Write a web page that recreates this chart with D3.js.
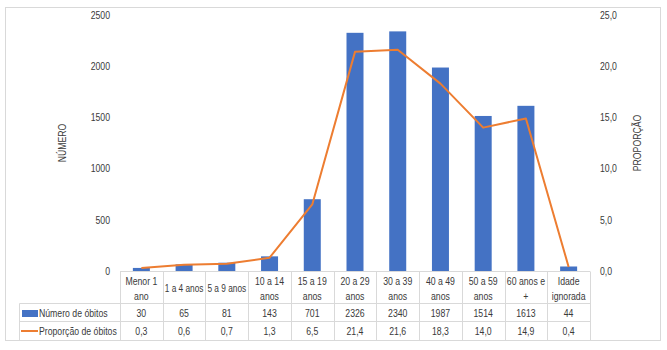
<!DOCTYPE html>
<html><head><meta charset="utf-8">
<script src="https://cdn.jsdelivr.net/npm/d3@7"></script>
<style>
body{margin:0;background:#fff;}
svg{display:block;font-family:"Liberation Sans",Arial,sans-serif;}
</style></head><body>
<svg id="c" width="667" height="350"></svg>
<script>
const categories = [["Menor 1","ano"],["1 a 4 anos"],["5 a 9 anos"],["10 a 14","anos"],["15 a 19","anos"],["20 a 29","anos"],["30 a 39","anos"],["40 a 49","anos"],["50 a 59","anos"],["60 anos e","+"],["Idade","ignorada"]];
const obitos = [30,65,81,143,701,2326,2340,1987,1514,1613,44];
const proporcao = [0.3,0.6,0.7,1.3,6.5,21.4,21.6,18.3,14.0,14.9,0.4];
const leftTicks = [0,500,1000,1500,2000,2500];
const rightTicks = [0,5,10,15,20,25];
const seriesNames = ["Número de óbitos","Proporção de óbitos"];

const svg = d3.select("#c");
const txt = "#3a3a3a", grid = "#d9d9d9";
const blue = "#4472C4", orange = "#ED7D31";
const x0 = 120, x1 = 590, yTop = 15, yBot = 271;

// outer frame
svg.append("rect").attr("x",5.5).attr("y",7.5).attr("width",655).attr("height",333)
  .attr("fill","none").attr("stroke",grid);

const idx = categories.map((d,i)=>i);
const x = d3.scaleBand().domain(idx).range([x0,x1]).paddingInner(0).paddingOuter(0);
const yL = d3.scaleLinear().domain([0,2500]).range([yBot,yTop]);
const yR = d3.scaleLinear().domain([0,25]).range([yBot,yTop]);

// left axis
const gl = svg.append("g").attr("transform",`translate(${x0-8},0)`)
  .call(d3.axisLeft(yL).tickValues(leftTicks).tickSize(0).tickPadding(2).tickFormat(d3.format("d")));
gl.select(".domain").remove();
gl.selectAll("text").attr("fill",txt).style("font-size","10.5px");

// right axis
const fmt = v => d3.format(".1f")(v).replace(".",",");
const gr = svg.append("g").attr("transform",`translate(${x1+8},0)`)
  .call(d3.axisRight(yR).tickValues(rightTicks).tickSize(0).tickPadding(2).tickFormat(fmt));
gr.select(".domain").remove();
gr.selectAll("text").attr("fill",txt).style("font-size","10.5px");

// axis titles
svg.append("text").attr("transform",`translate(66,143) rotate(-90)`).attr("text-anchor","middle")
  .attr("fill",txt).style("font-size","10.5px").text("NÚMERO");
svg.append("text").attr("transform",`translate(641,143) rotate(-90)`).attr("text-anchor","middle")
  .attr("fill",txt).style("font-size","10.5px").text("PROPORÇÃO");

// bars
const bw = 17;
svg.append("g").selectAll("rect").data(obitos).join("rect")
  .attr("x",(d,i)=>x(i)+x.bandwidth()/2-bw/2)
  .attr("y",d=>yL(d)).attr("width",bw).attr("height",d=>yBot-yL(d))
  .attr("fill",blue);

// line
const line = d3.line().x((d,i)=>x(i)+x.bandwidth()/2).y(d=>yR(d));
svg.append("path").datum(proporcao).attr("d",line).attr("fill","none")
  .attr("stroke",orange).attr("stroke-width",2).attr("stroke-linejoin","round");

// table
const tb = svg.append("g").attr("stroke",grid).attr("stroke-width",1);
const r0 = yBot+0.5, r1 = 303.5, r2 = 321.5, r3 = 340.5;
tb.append("line").attr("x1",x0).attr("x2",x1).attr("y1",r0).attr("y2",r0);
[r1,r2].forEach(y=>tb.append("line").attr("x1",19.5).attr("x2",x1).attr("y1",y).attr("y2",y));
tb.append("line").attr("x1",19.5).attr("x2",19.5).attr("y1",r1).attr("y2",r3);
idx.concat([idx.length]).forEach(i=>{
  const xx = Math.round(x0 + i*x.bandwidth())+0.5;
  tb.append("line").attr("x1",xx).attr("x2",xx).attr("y1",r0).attr("y2",r3);
});

const tt = svg.append("g").attr("fill",txt).style("font-size","10.5px").attr("text-anchor","middle");
categories.forEach((c,i)=>{
  const cx = x(i)+x.bandwidth()/2;
  if(c.length===1){
    tt.append("text").attr("class","cat").attr("x",cx).attr("y",288).attr("dy","0.35em").text(c[0]);
  } else {
    tt.append("text").attr("class","cat").attr("x",cx).attr("y",281).attr("dy","0.35em").text(c[0]);
    tt.append("text").attr("class","cat").attr("x",cx).attr("y",296).attr("dy","0.35em").text(c[1]);
  }
  tt.append("text").attr("x",cx).attr("y",313).attr("dy","0.35em").text(obitos[i]);
  tt.append("text").attr("x",cx).attr("y",331).attr("dy","0.35em").text(fmt(proporcao[i]));
});

// legend keys
svg.append("rect").attr("x",22).attr("y",310).attr("width",16).attr("height",7).attr("fill",blue);
svg.append("line").attr("x1",21).attr("x2",38).attr("y1",331).attr("y2",331).attr("stroke",orange).attr("stroke-width",2);
svg.append("text").attr("x",39).attr("y",313).attr("dy","0.35em").attr("fill",txt).style("font-size","10.5px").text(seriesNames[0]);
svg.append("text").attr("x",39).attr("y",331).attr("dy","0.35em").attr("fill",txt).style("font-size","10.5px").text(seriesNames[1]);

// condense all text horizontally to mimic Calibri width
const maxCat = x.bandwidth()-4;
svg.selectAll("text").each(function(){
  const w = this.getComputedTextLength();
  if(w>0){
    let s = 0.83;
    if(this.classList.contains("cat")) s = Math.min(s, maxCat/w);
    const ax = +(this.getAttribute("x")||0);
    const T = this.getAttribute("transform")||"";
    this.setAttribute("transform", `${T} translate(${ax},0) scale(${s.toFixed(3)},1) translate(${-ax},0)`.trim());
  }
});
</script></body></html>
